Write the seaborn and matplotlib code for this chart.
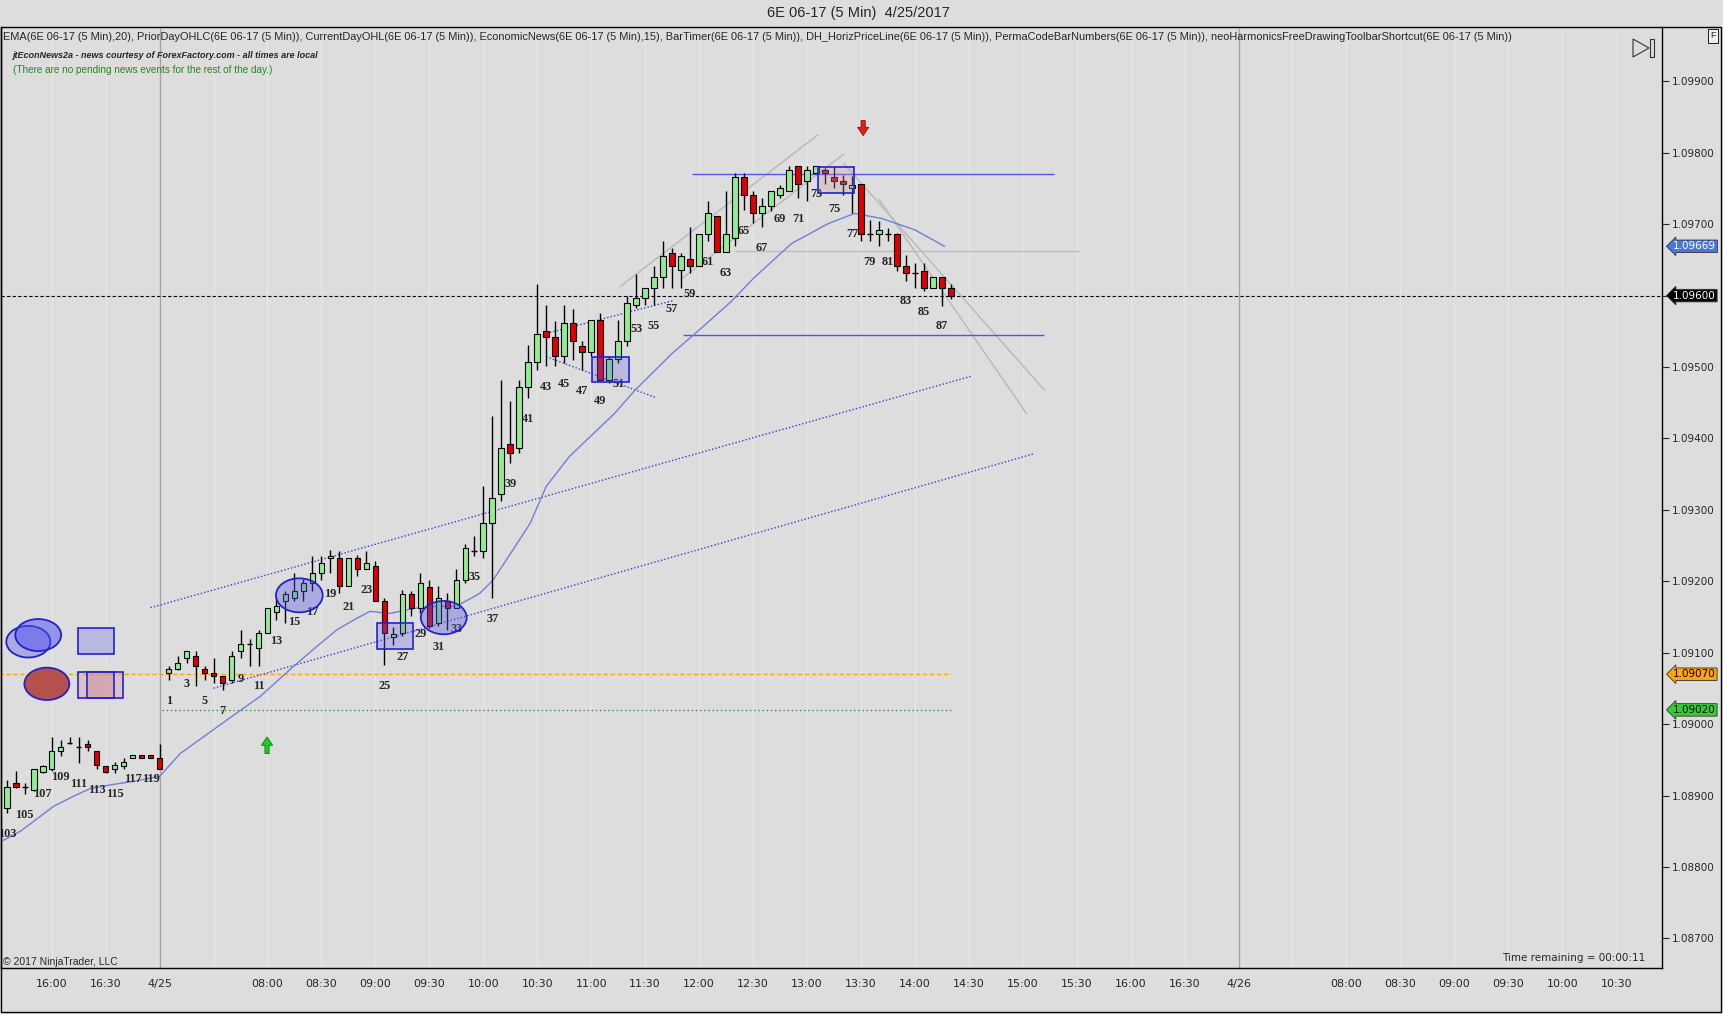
import matplotlib
matplotlib.use('Agg')
import matplotlib.pyplot as plt
import matplotlib.patches as mpatches
import matplotlib.transforms as mtransforms
import numpy as np
import pandas as pd
import seaborn as sns

# ---- data --------------------------------------------------------------
# yesterday's bars 103..120 sit left of the 4/25 separator (index n - 120)
prev_num = list(range(103, 121))
prev_open = [1.08882, 1.08917, 1.08912, 1.08908, 1.08933, 1.08937, 1.08962, 1.08973, 1.08968,
             1.08972, 1.08962, 1.08942, 1.08937, 1.08942, 1.08952, 1.08957, 1.08957, 1.08952]
prev_high = [1.08922, 1.08934, 1.08918, 1.08937, 1.08943, 1.08982, 1.08978, 1.08982, 1.08982,
             1.08978, 1.08962, 1.08942, 1.08947, 1.08952, 1.08957, 1.08957, 1.08957, 1.08972]
prev_low = [1.08876, 1.08910, 1.08902, 1.08907, 1.08932, 1.08934, 1.08955, 1.08972, 1.08946,
            1.08962, 1.08937, 1.08932, 1.08932, 1.08937, 1.08952, 1.08952, 1.08952, 1.08937]
prev_close = [1.08912, 1.08912, 1.08912, 1.08937, 1.08942, 1.08962, 1.08968, 1.08973, 1.08968,
              1.08968, 1.08943, 1.08933, 1.08943, 1.08947, 1.08957, 1.08952, 1.08952, 1.08937]

# today's bars 1..88
day_num = list(range(1, 89))
day_open = [1.09071, 1.09077, 1.09092, 1.09096, 1.09077, 1.09071, 1.09067, 1.09062, 1.09102, 1.09112,
            1.09106, 1.09127, 1.09157, 1.09172, 1.09176, 1.09186, 1.09197, 1.09211, 1.09232, 1.09232,
            1.09193, 1.09232, 1.09217, 1.09221, 1.09172, 1.09122, 1.09127, 1.09182, 1.09162, 1.09192,
            1.09141, 1.09172, 1.09162, 1.09202, 1.09242, 1.09242, 1.09281, 1.09322, 1.09392, 1.09386,
            1.09472, 1.09507, 1.09551, 1.09542, 1.09516, 1.09561, 1.09530, 1.09521, 1.09566, 1.09482,
            1.09511, 1.09536, 1.09587, 1.09596, 1.09610, 1.09626, 1.09660, 1.09636, 1.09651, 1.09641,
            1.09686, 1.09711, 1.09661, 1.09680, 1.09766, 1.09741, 1.09715, 1.09725, 1.09741, 1.09746,
            1.09781, 1.09760, 1.09772, 1.09776, 1.09766, 1.09760, 1.09750, 1.09756, 1.09686, 1.09686,
            1.09686, 1.09686, 1.09641, 1.09631, 1.09635, 1.09610, 1.09626, 1.09610]
day_high = [1.09081, 1.09096, 1.09102, 1.09102, 1.09082, 1.09093, 1.09067, 1.09102, 1.09132, 1.09119,
            1.09132, 1.09162, 1.09176, 1.09186, 1.09212, 1.09203, 1.09235, 1.09235, 1.09244, 1.09242,
            1.09232, 1.09237, 1.09242, 1.09228, 1.09176, 1.09136, 1.09188, 1.09186, 1.09211, 1.09202,
            1.09193, 1.09183, 1.09217, 1.09252, 1.09263, 1.09333, 1.09432, 1.09482, 1.09452, 1.09482,
            1.09531, 1.09616, 1.09587, 1.09565, 1.09587, 1.09581, 1.09536, 1.09566, 1.09576, 1.09515,
            1.09566, 1.09600, 1.09630, 1.09610, 1.09641, 1.09677, 1.09666, 1.09660, 1.09696, 1.09686,
            1.09732, 1.09711, 1.09747, 1.09771, 1.09771, 1.09746, 1.09736, 1.09746, 1.09755, 1.09781,
            1.09781, 1.09781, 1.09781, 1.09778, 1.09781, 1.09769, 1.09767, 1.09756, 1.09706, 1.09705,
            1.09694, 1.09688, 1.09657, 1.09645, 1.09645, 1.09626, 1.09626, 1.09616]
day_low = [1.09062, 1.09076, 1.09086, 1.09053, 1.09062, 1.09057, 1.09048, 1.09057, 1.09092, 1.09082,
           1.09082, 1.09127, 1.09146, 1.09141, 1.09172, 1.09172, 1.09186, 1.09202, 1.09211, 1.09183,
           1.09193, 1.09207, 1.09217, 1.09172, 1.09083, 1.09111, 1.09123, 1.09151, 1.09155, 1.09134,
           1.09137, 1.09132, 1.09162, 1.09197, 1.09235, 1.09232, 1.09176, 1.09312, 1.09366, 1.09380,
           1.09456, 1.09496, 1.09501, 1.09501, 1.09505, 1.09510, 1.09496, 1.09515, 1.09482, 1.09477,
           1.09505, 1.09529, 1.09582, 1.09587, 1.09587, 1.09610, 1.09610, 1.09610, 1.09631, 1.09641,
           1.09676, 1.09661, 1.09661, 1.09669, 1.09720, 1.09702, 1.09696, 1.09718, 1.09736, 1.09746,
           1.09736, 1.09732, 1.09772, 1.09756, 1.09750, 1.09741, 1.09715, 1.09676, 1.09676, 1.09669,
           1.09676, 1.09635, 1.09621, 1.09610, 1.09606, 1.09610, 1.09586, 1.09595]
day_close = [1.09077, 1.09086, 1.09102, 1.09082, 1.09071, 1.09067, 1.09057, 1.09096, 1.09112, 1.09112,
             1.09127, 1.09162, 1.09166, 1.09182, 1.09186, 1.09197, 1.09211, 1.09226, 1.09236, 1.09193,
             1.09232, 1.09217, 1.09226, 1.09172, 1.09127, 1.09126, 1.09182, 1.09162, 1.09197, 1.09137,
             1.09176, 1.09162, 1.09202, 1.09246, 1.09242, 1.09281, 1.09316, 1.09386, 1.09380, 1.09472,
             1.09507, 1.09546, 1.09542, 1.09516, 1.09561, 1.09536, 1.09521, 1.09566, 1.09482, 1.09511,
             1.09536, 1.09590, 1.09596, 1.09610, 1.09626, 1.09656, 1.09641, 1.09656, 1.09641, 1.09686,
             1.09715, 1.09661, 1.09686, 1.09766, 1.09741, 1.09715, 1.09725, 1.09746, 1.09750, 1.09776,
             1.09756, 1.09776, 1.09781, 1.09771, 1.09760, 1.09756, 1.09755, 1.09686, 1.09686, 1.09692,
             1.09686, 1.09641, 1.09631, 1.09631, 1.09610, 1.09626, 1.09610, 1.09600]

# EMA(20) as traced on the chart
ema_x = [-17.6, -17.0, -15.5, -14.0, -11.8, -9.6, -7.7, -5.5, -2.9, 0.0, 2.3, 7.5, 11.2, 14.9, 17.5,
         19.7, 21.9, 23.4, 25.6, 28.2, 30.8, 33.0, 35.6, 37.1, 39.3, 41.2, 43.0, 45.6, 50.6, 52.9,
         57.0, 60.3, 63.6, 66.2, 70.3, 74.4, 77.3, 80.3, 84.0, 87.3]
ema_y = [1.08836, 1.08840, 1.08850, 1.08864, 1.08885, 1.08899, 1.08910, 1.08915, 1.08920, 1.08927,
         1.08959, 1.09006, 1.09039, 1.09081, 1.09109, 1.09132, 1.09148, 1.09158, 1.09155, 1.09162,
         1.09165, 1.09165, 1.09183, 1.09202, 1.09244, 1.09281, 1.09333, 1.09375, 1.09435, 1.09468,
         1.09519, 1.09555, 1.09592, 1.09626, 1.09673, 1.09701, 1.09715, 1.09708, 1.09692, 1.09669]

last_price = 1.09600
prior_close = 1.09070
prior_low = 1.09020
ema_last = 1.09669

tick_pos = [-12, -6, 0, 6, 12, 18, 24, 30, 36, 42, 48, 54, 60, 66, 72, 78, 84, 90, 96, 102,
            108, 114, 120, 126, 132, 138, 144, 150, 156, 162]
tick_lab = ['16:00', '16:30', '4/25', '', '08:00', '08:30', '09:00', '09:30', '10:00', '10:30',
            '11:00', '11:30', '12:00', '12:30', '13:00', '13:30', '14:00', '14:30', '15:00', '15:30',
            '16:00', '16:30', '4/26', '', '08:00', '08:30', '09:00', '09:30', '10:00', '10:30']
day_breaks = [0, 120]
price_ticks = [1.087, 1.088, 1.089, 1.090, 1.091, 1.092, 1.093, 1.094, 1.095, 1.096, 1.097, 1.098, 1.099]

indicators = ('EMA(6E 06-17 (5 Min),20), PriorDayOHLC(6E 06-17 (5 Min)), CurrentDayOHL(6E 06-17 (5 Min)), '
              'EconomicNews(6E 06-17 (5 Min),15), BarTimer(6E 06-17 (5 Min)), DH_HorizPriceLine(6E 06-17 (5 Min)), '
              'PermaCodeBarNumbers(6E 06-17 (5 Min)), neoHarmonicsFreeDrawingToolbarShortcut(6E 06-17 (5 Min))')

# ---- frame ---------------------------------------------------------------
sns.set_style('white')
plt.rcParams['font.family'] = ['DejaVu Sans']

BG = '#dddddd'
W, H = 1723, 1014


def fx(px):
    return px / W


def fy(py):
    return 1 - py / H


fig = plt.figure(figsize=(W / 100, H / 100), dpi=100)
fig.patch.set_facecolor(BG)
ax = fig.add_axes([fx(1), fy(968), fx(1662) - fx(1), fy(27) - fy(968)])
ax.set_facecolor(BG)

bars = pd.concat([
    pd.DataFrame({'num': prev_num, 'open': prev_open, 'high': prev_high, 'low': prev_low, 'close': prev_close}),
    pd.DataFrame({'num': day_num, 'open': day_open, 'high': day_high, 'low': day_low, 'close': day_close}),
], ignore_index=True)
bars['x'] = np.where(bars.num > 100, bars.num - 120, bars.num)

# grid lines at time ticks, darker at the session breaks
for t in tick_pos:
    c = '#a5a5a5' if t in day_breaks else '#e5e5e5'
    ax.axvline(t, color=c, lw=1, zorder=0)

# horizontal levels
ax.axhline(last_price, color='black', lw=0.8, ls=(0, (3, 2)), zorder=2)
ax.hlines(prior_close, -18, 88, color='#ffa500', lw=1, ls=(0, (3, 2)), zorder=2)
ax.hlines(prior_low, 0.3, 88, color='#22a022', lw=1, ls=(0, (1, 2)), zorder=2)
ax.hlines(1.09770, 59.2, 99.5, color='#4a5ae0', lw=1, zorder=2)
ax.hlines(1.09545, 58.2, 98.4, color='#4a5ae0', lw=1, zorder=2)
ax.hlines(1.09662, 64.0, 102.3, color='#bdbdbd', lw=1, zorder=1)

# trend lines
grey = '#b8b8b8'
ax.plot([51.2, 73.2], [1.096125, 1.098248], color=grey, lw=1, zorder=1)
ax.plot([58.0, 76.1], [1.096230, 1.097982], color=grey, lw=1, zorder=1)
ax.plot([76.1, 98.4], [1.097850, 1.094678], color=grey, lw=1, zorder=1)
ax.plot([80.0, 96.4], [1.097350, 1.094352], color=grey, lw=1, zorder=1)
dot = dict(color='#3a3ad8', lw=1, ls=(0, (1, 1.5)), zorder=2)
ax.plot([-1.0, 90.4], [1.091631, 1.094876], **dot)
ax.plot([6.0, 97.2], [1.090503, 1.093784], **dot)
ax.plot([42.3, 57.1], [1.095448, 1.095929], **dot)
ax.plot([43.0, 55.1], [1.095145, 1.094576], **dot)

# EMA
sns.lineplot(x=ema_x, y=ema_y, ax=ax, color='#7080d8', lw=1, sort=False, zorder=3)

# candles
up = bars.close > bars.open
dn = bars.close < bars.open
flat = bars.close == bars.open
ax.vlines(bars.x, bars.low, bars.high, color='black', lw=1, zorder=4)
ax.bar(bars.x[up], (bars.close - bars.open)[up], bottom=bars.open[up], width=0.62,
       color='#90ee90', edgecolor='black', lw=0.8, zorder=5)
ax.bar(bars.x[dn], (bars.open - bars.close)[dn], bottom=bars.close[dn], width=0.62,
       color='#e00000', edgecolor='black', lw=0.8, zorder=5)
ax.hlines(bars.close[flat], bars.x[flat] - 0.31, bars.x[flat] + 0.31, color='black', lw=1, zorder=5)

# bar numbers under every odd bar
for n, x, lo in zip(bars.num, bars.x, bars.low):
    if n % 2:
        t = ax.annotate(str(n), (x, lo), xytext=(0, -15), textcoords='offset points',
                        ha='center', va='center', fontsize=8.8, fontweight='bold',
                        family='Liberation Serif', zorder=6)
        t.set_clip_path(ax.patch)

# drawing objects
blue_fc = (0.35, 0.35, 0.9, 0.38)
edge = '#2222cc'
for cx, cy, w, h in [(15.54, 1.091804, 5.2, 0.000476), (31.6, 1.091492, 5.1, 0.000467),
                     (-14.6, 1.091155, 4.9, 0.000443)]:
    ax.add_patch(mpatches.Ellipse((cx, cy), w, h, fc=blue_fc, ec=edge, lw=1.3, zorder=7))
ax.add_patch(mpatches.Ellipse((-13.5, 1.091248), 5.1, 0.000448, fc=(0.3, 0.3, 0.95, 0.5), ec=edge, lw=1.3, zorder=7))
ax.add_patch(mpatches.Ellipse((-12.54, 1.090565), 5.0, 0.000453, fc='#b5504a', ec=edge, lw=1.3, zorder=7))

rect_fc = (0.4, 0.4, 0.9, 0.3)
for x0, x1, y0, y1, fc in [(24.14, 28.14, 1.091048, 1.091412, rect_fc),
                           (48.12, 52.23, 1.094786, 1.095145, rect_fc),
                           (73.25, 77.25, 1.097432, 1.097796, (0.8, 0.6, 0.65, 0.3)),
                           (-9.04, -5.04, 1.090978, 1.091342, rect_fc),
                           (-9.04, -4.04, 1.090362, 1.090726, (0.85, 0.6, 0.65, 0.4))]:
    ax.add_patch(mpatches.Rectangle((x0, y0), x1 - x0, y1 - y0, fc=fc, ec=edge, lw=1.2, zorder=7))
ax.add_patch(mpatches.Rectangle((-8.04, 1.090362), 3.0, 0.000364, fc=(0.75, 0.45, 0.5, 0.3),
                                ec=edge, lw=1.2, zorder=7))

# signal arrows
ax.annotate('', xy=(11.95, 1.08986), xytext=(11.95, 1.08955),
            arrowprops=dict(arrowstyle='simple,head_width=0.8,head_length=0.6,tail_width=0.3',
                            fc='#22cc22', ec='#0c7a0c', lw=0.6), zorder=7)
ax.annotate('', xy=(78.25, 1.09820), xytext=(78.25, 1.09849),
            arrowprops=dict(arrowstyle='simple,head_width=0.8,head_length=0.6,tail_width=0.3',
                            fc='#e02020', ec='#8a0c0c', lw=0.6), zorder=7)

# axes
ax.set_xlim(-17.64, 167.1)
ax.set_ylim(1.086587, 1.09976)
ax.set_xticks(tick_pos)
ax.set_xticklabels(tick_lab)
ax.set_yticks(price_ticks)
ax.set_yticklabels([f'{p:.5f}' for p in price_ticks])
ax.yaxis.tick_right()
ax.tick_params(axis='y', direction='out', length=5, width=0.8, labelsize=7.5, pad=2)
ax.tick_params(axis='x', direction='out', length=5, width=0.8, labelsize=8, pad=3)
ax.set_xlabel('')
ax.set_ylabel('')
for s in ax.spines.values():
    s.set_color('black')
    s.set_linewidth(1)
ax.spines['top'].set_visible(False)

# price flags on the right scale
trans = mtransforms.blended_transform_factory(ax.transAxes, ax.transData)
for p, fc, tc in [(ema_last, '#4a78d8', 'white'), (last_price, 'black', 'white'),
                  (prior_close, '#ffa500', 'black'), (prior_low, '#33cc33', 'black')]:
    ax.annotate(f'{p:.5f}', (1, p), xycoords=trans, xytext=(8, 0), textcoords='offset points',
                ha='left', va='center', fontsize=7.5, color=tc, annotation_clip=False,
                bbox=dict(boxstyle='larrow,pad=0.12', fc=fc, ec='#333333', lw=0.6), zorder=8)

# header and footer text
fig.text(fx(858), fy(13), '6E 06-17 (5 Min)  4/25/2017', ha='center', va='center',
         fontsize=10.5, family='Liberation Sans')
fig.text(fx(3), fy(37), indicators, ha='left', va='center', fontsize=7.9, family='Liberation Sans')
fig.text(fx(13), fy(56), 'jtEconNews2a - news courtesy of ForexFactory.com - all times are local',
         ha='left', va='center', fontsize=6.5, family='Liberation Sans', style='italic', weight='bold')
fig.text(fx(13), fy(70), '(There are no pending news events for the rest of the day.)',
         ha='left', va='center', fontsize=7.2, family='Liberation Sans', color='#1f8a1f')
fig.text(fx(3), fy(962), '\u00a9 2017 NinjaTrader, LLC', ha='left', va='center',
         fontsize=7.5, family='Liberation Sans')
fig.text(fx(1645), fy(958), 'Time remaining = 00:00:11', ha='right', va='center', fontsize=7.5)
fig.text(fx(1713), fy(36), 'F', ha='center', va='center', fontsize=6.5, family='Liberation Sans',
         bbox=dict(boxstyle='square,pad=0.25', fc='#eeeeee', ec='black', lw=0.6))

# chart frame and the little toolbar glyph
fig.add_artist(mpatches.Rectangle((fx(0.5), fy(1012)), fx(1721) - fx(0.5), fy(27) - fy(1012),
                                  transform=fig.transFigure, fill=False, ec='black', lw=1))
fig.add_artist(mpatches.Polygon([(fx(1633), fy(39)), (fx(1649), fy(48)), (fx(1633), fy(57))],
                                closed=True, transform=fig.transFigure, fill=False, ec='#333333', lw=0.8))
fig.add_artist(mpatches.Rectangle((fx(1650), fy(57)), fx(4), fy(0) - fy(18),
                                  transform=fig.transFigure, fill=False, ec='#333333', lw=0.8))

fig.savefig('out.png', dpi=100, facecolor=fig.get_facecolor())
